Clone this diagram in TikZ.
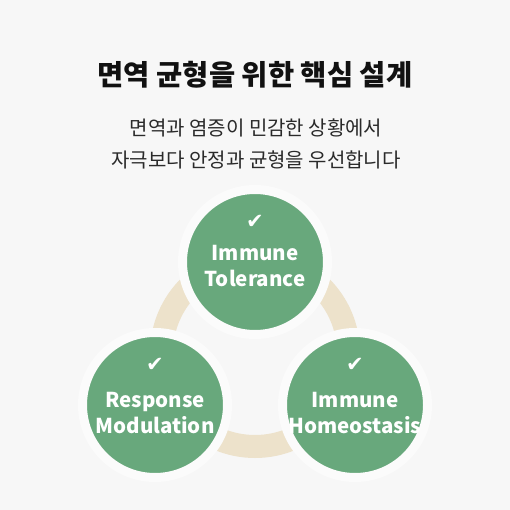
\documentclass[tikz,border=0pt]{standalone}
\usepackage{fontspec}
\setmainfont{Noto Sans CJK KR}
\newfontfamily\symfont{DejaVu Sans}
\definecolor{cBg}{HTML}{F7F7F7}
\definecolor{cGap}{HTML}{FBFBFB}
\definecolor{cGreen}{HTML}{68A87C}
\definecolor{cSand}{HTML}{EDE2CB}
\definecolor{cInk}{HTML}{111111}
\definecolor{cText}{HTML}{2A2A2A}
\tikzset{
	pillar/.style   ={circle, fill=cGreen, draw=cGap, line width=9pt, minimum size=145pt, inner sep=0pt},
	pillarlbl/.style={text=white, align=center, font=\fontsize{20.5}{26}\selectfont\bfseries},
	tickmark/.style ={text=white, inner sep=0pt, font=\symfont\fontsize{21}{21}\selectfont},
}
\begin{document}
\begin{tikzpicture}[x=1pt,y=-1pt]
	% background
	\fill[cBg] (0,0) rectangle (510,510);
	% heading
	\node[text=cInk, font=\fontsize{28.5}{32}\selectfont\bfseries] (title) at (255,75) {면역 균형을 위한 핵심 설계};
	\node[text=cText, align=center, font=\fontsize{20}{32}\selectfont] (sub) at (256,144) {면역과 염증이 민감한 상황에서\\ 자극보다 안정과 균형을 우선합니다};
	% ring
	\draw[cSand, line width=23pt] (255,353) circle (93.5pt);
	% pillars
	\node[pillar] (tol) at (255,262) {};
	\node[pillar] (mod) at (155,405) {};
	\node[pillar] (hom) at (355,405) {};
	\foreach \n in {tol,mod,hom} \node[tickmark] (\n-tick) at ([yshift=40pt]\n.center) {✔};
	\node[pillarlbl] (tol-lbl) at ([yshift=-4pt]tol.center) {Immune\\ Tolerance};
	\node[pillarlbl] (mod-lbl) at ([yshift=-8.5pt]mod.center) {Response\\ Modulation};
	\node[pillarlbl] (hom-lbl) at ([yshift=-8.5pt]hom.center) {Immune\\ Homeostasis};
\end{tikzpicture}
\end{document}
